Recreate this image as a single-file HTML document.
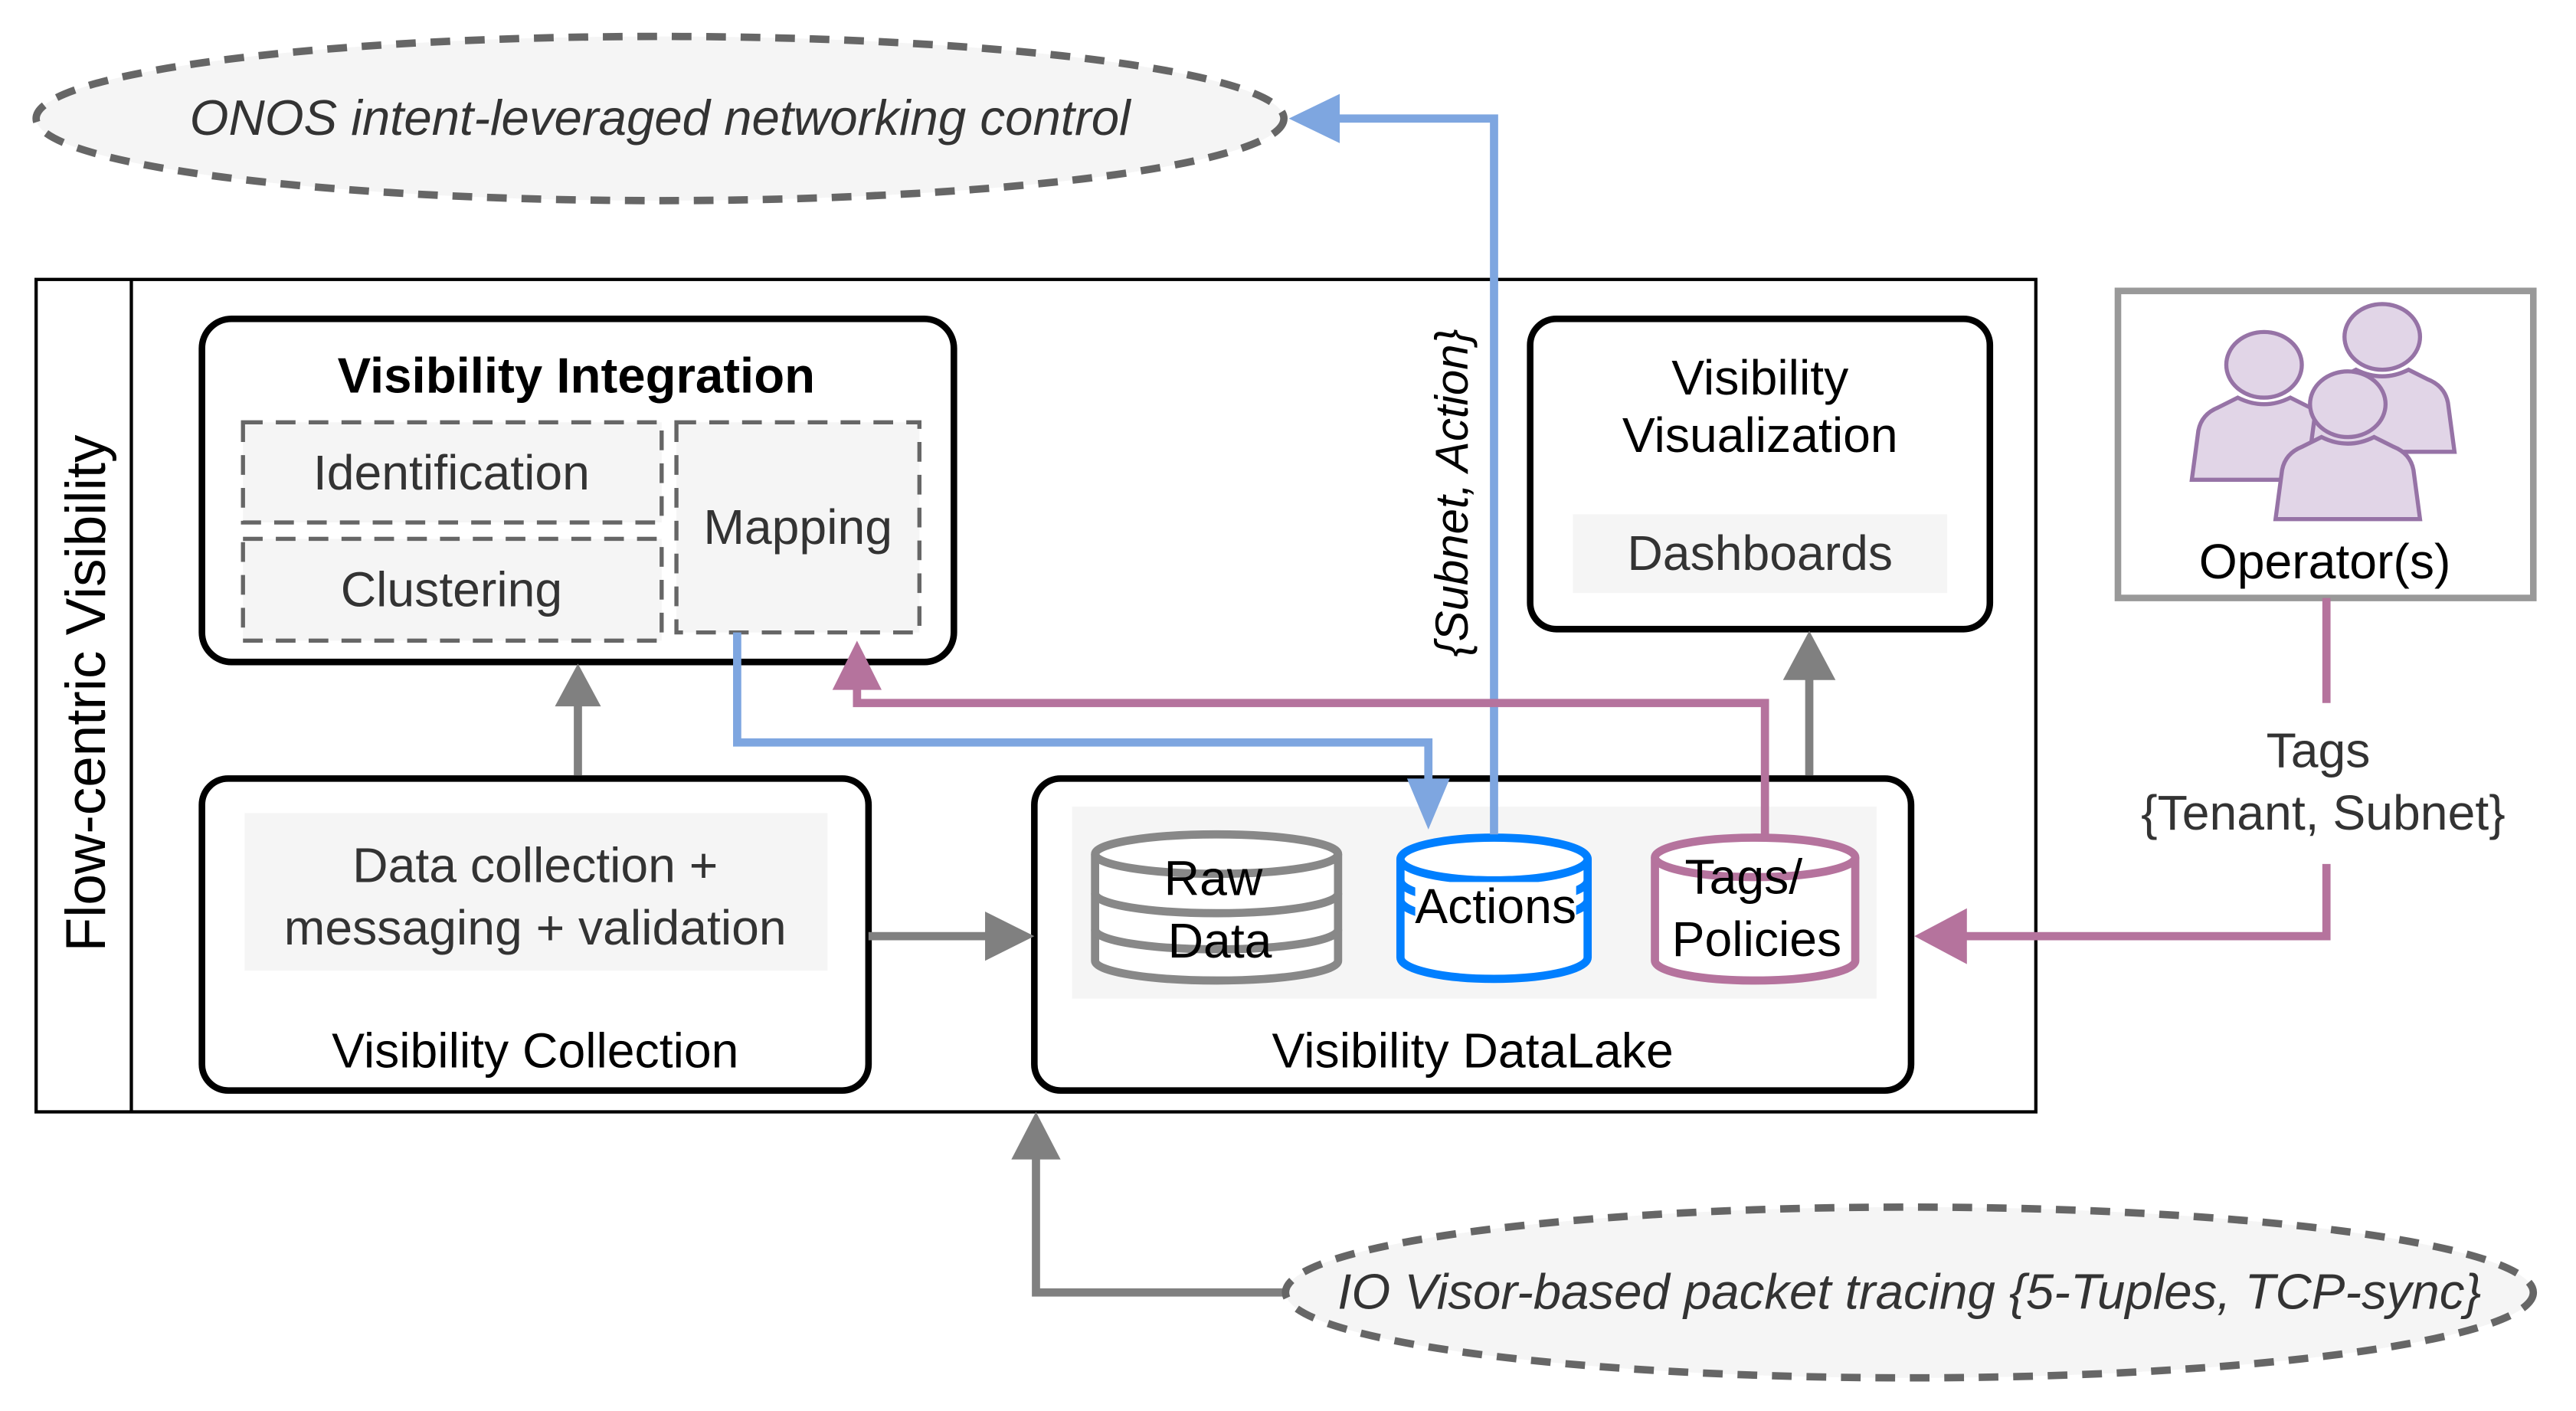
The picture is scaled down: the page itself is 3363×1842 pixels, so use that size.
<!DOCTYPE html>
<html><head><meta charset="utf-8"><style>
html,body{margin:0;padding:0;background:#fff;}
svg{display:block;}
text{font-family:"Liberation Sans",Arial,sans-serif;}
</style></head><body>
<svg width="3363" height="1842" viewBox="0 0 1569 859" xmlns="http://www.w3.org/2000/svg">
<defs>
<g id="person">
<path d="M-44,48 L-40,18 Q-38,8 -28,4 L-16,-2 Q0,6 16,-2 L28,4 Q38,8 40,18 L44,48 Z" fill="#e1d5e7" stroke="#9673a6" stroke-width="2.5"/>
<ellipse cx="0" cy="-22" rx="23" ry="20" fill="#e1d5e7" stroke="#9673a6" stroke-width="2.5"/>
</g>
</defs>
<ellipse cx="402" cy="72" rx="380" ry="50" fill="#f5f5f5" stroke="#666" stroke-width="4.5" stroke-dasharray="12 9"/>
<text x="402" y="82" font-size="30.5" font-style="italic" fill="#333" text-anchor="middle">ONOS intent-leveraged networking control</text>

<rect x="22" y="170" width="1218" height="507" fill="none" stroke="#000" stroke-width="2"/>
<line x1="80" y1="170" x2="80" y2="677" stroke="#000" stroke-width="2"/>
<text transform="translate(64,422) rotate(-90)" font-size="34" text-anchor="middle" fill="#000">Flow-centric Visibility</text>

<rect x="123" y="194" width="458" height="209" rx="18" fill="#fff" stroke="#000" stroke-width="4"/>
<text x="351" y="239" font-size="30.5" font-weight="bold" text-anchor="middle">Visibility Integration</text>
<rect x="148" y="257" width="255" height="61" fill="#f5f5f5" stroke="#666" stroke-width="2.5" stroke-dasharray="12 8"/>
<text x="275" y="298" font-size="30" fill="#333" text-anchor="middle">Identification</text>
<rect x="148" y="328" width="255" height="62" fill="#f5f5f5" stroke="#666" stroke-width="2.5" stroke-dasharray="12 8"/>
<text x="275" y="369" font-size="30" fill="#333" text-anchor="middle">Clustering</text>
<rect x="412" y="257" width="148" height="128" fill="#f5f5f5" stroke="#666" stroke-width="2.5" stroke-dasharray="12 8"/>
<text x="486" y="331" font-size="30" fill="#333" text-anchor="middle">Mapping</text>

<rect x="932" y="194" width="280" height="189" rx="16" fill="#fff" stroke="#000" stroke-width="4"/>
<text x="1072" y="240" font-size="30" text-anchor="middle">Visibility</text>
<text x="1072" y="275" font-size="30" text-anchor="middle">Visualization</text>
<rect x="958" y="313" width="228" height="48" fill="#f5f5f5"/>
<text x="1072" y="347" font-size="30" fill="#333" text-anchor="middle">Dashboards</text>

<rect x="1290" y="177" width="253" height="187" fill="#fff" stroke="#999" stroke-width="4"/>
<use href="#person" x="1379" y="244"/>
<use href="#person" x="1451" y="227"/>
<use href="#person" x="1430" y="268"/>
<text x="1416" y="352" font-size="30" text-anchor="middle">Operator(s)</text>

<rect x="123" y="474" width="406" height="190" rx="16" fill="#fff" stroke="#000" stroke-width="4"/>
<rect x="149" y="495" width="355" height="96" fill="#f5f5f5"/>
<text x="326" y="537" font-size="30" fill="#333" text-anchor="middle">Data collection +</text>
<text x="326" y="575" font-size="30" fill="#333" text-anchor="middle">messaging + validation</text>
<text x="326" y="650" font-size="30" text-anchor="middle">Visibility Collection</text>

<rect x="630" y="474" width="534" height="190" rx="16" fill="#fff" stroke="#000" stroke-width="4"/>
<rect x="653" y="491" width="490" height="117" fill="#f5f5f5"/>
<text x="897" y="650" font-size="30" text-anchor="middle">Visibility DataLake</text>

<g fill="#fff" stroke="#888" stroke-width="5">
<path d="M667,520 L667,585 A74,12 0 0 0 815,585 L815,520"/>
<ellipse cx="741" cy="520" rx="74" ry="12"/>
<path d="M667,544 A74,12 0 0 0 815,544" fill="none"/>
<path d="M667,566 A74,12 0 0 0 815,566" fill="none"/>
</g>
<text x="739" y="545" font-size="30" text-anchor="middle">Raw</text>
<text x="743" y="583" font-size="30" text-anchor="middle">Data</text>

<g fill="#fff" stroke="#007fff" stroke-width="5">
<path d="M853,523 L853,583 A57,13 0 0 0 967,583 L967,523"/>
<ellipse cx="910" cy="523" rx="57" ry="13"/>
<path d="M853,536 A57,13 0 0 0 967,536" fill="none"/>
<path d="M853,548 A57,13 0 0 0 967,548" fill="none"/>
</g>
<rect x="862" y="537" width="98" height="28" fill="#fff"/>
<text x="911" y="562" font-size="30" text-anchor="middle">Actions</text>

<g fill="#fff" stroke="#b5739d" stroke-width="5">
<path d="M1008,522 L1008,585 A61,12 0 0 0 1130,585 L1130,522"/>
<ellipse cx="1069" cy="522" rx="61" ry="12"/>
</g>
<text x="1062" y="544" font-size="30" text-anchor="middle">Tags/</text>
<text x="1070" y="582" font-size="30" text-anchor="middle">Policies</text>

<g stroke="#808080" stroke-width="5" fill="none">
<line x1="352" y1="472" x2="352" y2="428"/>
<line x1="1102" y1="472" x2="1102" y2="412"/>
<line x1="529" y1="570" x2="604" y2="570"/>
<polyline points="785,787 631,787 631,704"/>
</g>
<g fill="#808080">
<polygon points="352,404 338,430 366,430"/>
<polygon points="1102,384 1086,414 1118,414"/>
<polygon points="630,570 600,555 600,585"/>
<polygon points="631,677 616,706 646,706"/>
</g>

<g stroke="#7ea6e0" stroke-width="5" fill="none">
<polyline points="449,385 449,452 870,452 870,480"/>
<polyline points="910,508 910,72 812,72"/>
</g>
<g fill="#7ea6e0">
<polygon points="870,505 857,474 883,474"/>
<polygon points="785,72 816,57 816,87"/>
</g>
<text transform="translate(894,300) rotate(-90)" font-size="28" font-style="italic" text-anchor="middle">{Subnet, Action}</text>

<g stroke="#b5739d" stroke-width="5" fill="none">
<polyline points="1075,508 1075,428 522,428 522,416"/>
<line x1="1417" y1="364" x2="1417" y2="428"/>
<polyline points="1417,526 1417,570 1194,570"/>
</g>
<g fill="#b5739d">
<polygon points="522,390 507,420 537,420"/>
<polygon points="1166,570 1198,553 1198,587"/>
</g>
<text x="1412" y="467" font-size="30" fill="#333" text-anchor="middle">Tags</text>
<text x="1415" y="505" font-size="30" fill="#333" text-anchor="middle">{Tenant, Subnet}</text>

<ellipse cx="1163" cy="787" rx="380" ry="52" fill="#f5f5f5" stroke="#666" stroke-width="4.5" stroke-dasharray="12 9"/>
<text x="1163" y="797" font-size="30.5" font-style="italic" fill="#333" text-anchor="middle">IO Visor-based packet tracing {5-Tuples, TCP-sync}</text>
</svg>
</body></html>
